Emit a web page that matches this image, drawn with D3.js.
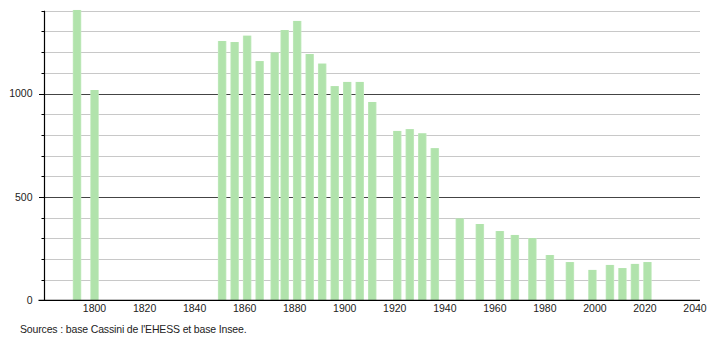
<!DOCTYPE html>
<html>
<head>
<meta charset="utf-8">
<script src="https://cdn.jsdelivr.net/npm/d3@7"></script>
<style>
  body { margin: 0; background: #fff; }
  svg text { font-family: "Liberation Sans", Arial, sans-serif; font-size: 10.5px; fill: #222; }
</style>
</head>
<body>
<div id="chart"></div>
<script>
// census years and population
var years = [1793, 1800, 1851, 1856, 1861, 1866, 1872, 1876, 1881, 1886, 1891, 1896, 1901, 1906, 1911,
             1921, 1926, 1931, 1936, 1946, 1954, 1962, 1968, 1975, 1982, 1990, 1999, 2006, 2011, 2016, 2021];
var population = [1404, 1017, 1254, 1249, 1280, 1157, 1199, 1307, 1351, 1191, 1145, 1036, 1056, 1056, 959,
                  819, 828, 808, 736, 396, 369, 335, 316, 301, 219, 185, 147, 171, 156, 176, 185];
var xTicks = [1800, 1820, 1840, 1860, 1880, 1900, 1920, 1940, 1960, 1980, 2000, 2020, 2040];
var yLabels = [0, 500, 1000];
var sourceText = "Sources : base Cassini de l'EHESS et base Insee.";

var width = 710, height = 340;

var svg = d3.select("#chart").append("svg")
    .attr("width", width)
    .attr("height", height);

var x = d3.scaleLinear().domain([1780, 2042]).range([44.5, 700]);
var y = d3.scaleLinear().domain([0, 1400]).range([300.3, 10.8]);

// soft-edged bar fill
var grad = svg.append("defs").append("linearGradient")
    .attr("id", "barGrad").attr("x1", "0").attr("x2", "1").attr("y1", "0").attr("y2", "0");
grad.append("stop").attr("offset", "0%").attr("stop-color", "#c4ebc0");
grad.append("stop").attr("offset", "15%").attr("stop-color", "#b1e3ac");
grad.append("stop").attr("offset", "85%").attr("stop-color", "#b1e3ac");
grad.append("stop").attr("offset", "100%").attr("stop-color", "#c8ecc4");

// grid lines every 100
var gridVals = d3.range(100, 1401, 100);
svg.selectAll(".grid")
    .data(gridVals)
    .enter().append("line")
    .attr("class", "grid")
    .attr("x1", x(1780)).attr("x2", 700)
    .attr("y1", function (d) { return Math.round(y(d)) + 0.5; })
    .attr("y2", function (d) { return Math.round(y(d)) + 0.5; })
    .attr("stroke", function (d) { return d % 500 === 0 ? "#444" : "#c8c8c8"; })
    .attr("stroke-width", 1);

// bars
svg.selectAll(".bar")
    .data(years)
    .enter().append("rect")
    .attr("class", "bar")
    .attr("x", function (d) { return x(d - 1.7); })
    .attr("width", function (d) { return x(d + 1.7) - x(d - 1.7); })
    .attr("y", function (d, i) { return y(population[i]); })
    .attr("height", function (d, i) { return y(0) - y(population[i]); })
    .attr("fill", "url(#barGrad)");

// y axis
var yAxis = svg.append("g").attr("transform", "translate(" + x(1780) + ",0)");
yAxis.append("line")
    .attr("x1", 0).attr("x2", 0)
    .attr("y1", y(1400)).attr("y2", y(0))
    .attr("stroke", "#000").attr("stroke-width", 1.2);
yAxis.selectAll(".ytick")
    .data(d3.range(0, 1401, 100))
    .enter().append("line")
    .attr("x1", function (d) { return d % 500 === 0 ? -5.5 : -3; })
    .attr("x2", 0)
    .attr("y1", function (d) { return Math.round(y(d)) + 0.5; })
    .attr("y2", function (d) { return Math.round(y(d)) + 0.5; })
    .attr("stroke", "#000");
yAxis.selectAll(".ylabel")
    .data(yLabels)
    .enter().append("text")
    .attr("x", -12)
    .attr("y", function (d) { return y(d); })
    .attr("dy", "0.35em")
    .attr("text-anchor", "end")
    .text(function (d) { return d; });

// x axis
svg.append("line")
    .attr("x1", x(1780) - 6).attr("x2", 700)
    .attr("y1", y(0)).attr("y2", y(0))
    .attr("stroke", "#000").attr("stroke-width", 1.2);
svg.selectAll(".xlabel")
    .data(xTicks)
    .enter().append("text")
    .attr("x", function (d) { return x(d); })
    .attr("y", y(0) + 12)
    .attr("text-anchor", "middle")
    .text(function (d) { return d; });

svg.append("text")
    .attr("x", 20)
    .attr("y", 333)
    .attr("letter-spacing", "-0.15px")
    .text(sourceText);
</script>
</body>
</html>
